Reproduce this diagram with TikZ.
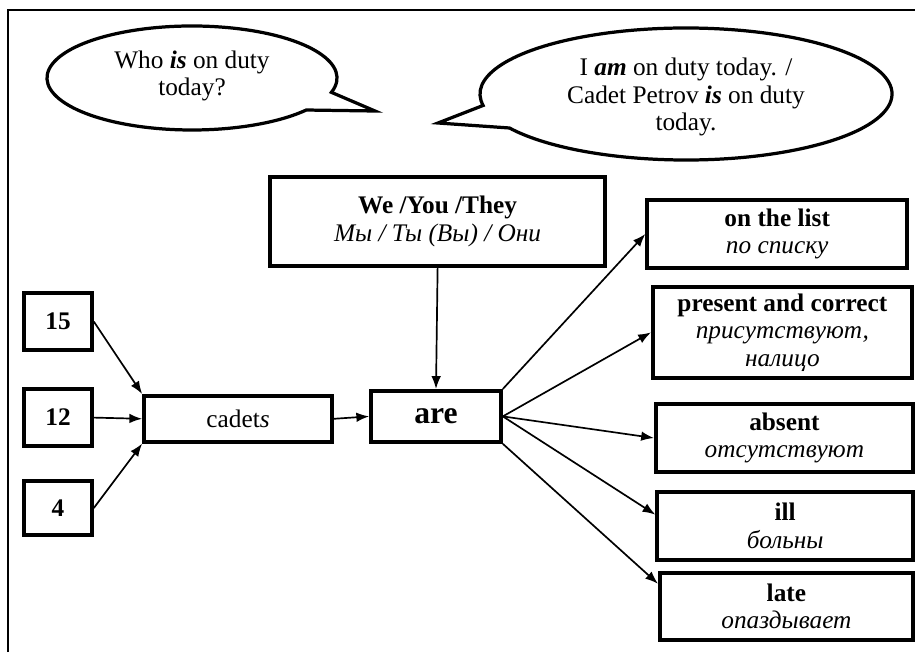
\documentclass[tikz,border=0pt]{standalone}
\usepackage{fontspec}
\setmainfont{Liberation Serif}
\usetikzlibrary{arrows.meta}
\tikzset{
	wordbox/.style={draw, line width=2.6pt, align=center, inner sep=0pt},
	bubble/.style={draw, line width=2.3pt, fill=white, line join=miter},
	link/.style={-{Latex[length=3.2mm,width=2.4mm]}, line width=1.2pt},
}
\begin{document}
\begin{tikzpicture}[font=\fontsize{18}{19.5}\selectfont]
		\useasboundingbox (0,0) rectangle (22.875,16.3);
		\draw[line width=0.9pt] (0.2,0) -- (0.2,16.05) -- (22.875,16.05);
		% speech bubbles
		\draw[bubble] (4.8,14.35) ++(-16:3.625 and 1.3) arc[start angle=-16, end angle=322, x radius=3.625, y radius=1.3] -- (9.375,13.525) -- cycle;
		\draw[bubble] (17.15,13.95) ++(211:5.15 and 1.65) arc[start angle=211, end angle=550, x radius=5.15, y radius=1.65] -- (10.95,13.225) -- cycle;
		\node[align=center] (ask) at (4.8,14.4) {Who \textbf{\textit{is}} on duty\\today?};
		\node[align=center] (answer) at (17.15,13.875) {I \textbf{\textit{am}} on duty today. /\\Cadet Petrov \textbf{\textit{is}} on duty\\today.};
		% numbers
		\node[wordbox, minimum width=1.7cm, minimum height=1.43cm] (n15) at (1.45,8.26) {\textbf{15}};
		\node[wordbox, minimum width=1.7cm, minimum height=1.43cm] (n12) at (1.45,5.86) {\textbf{12}};
		\node[wordbox, minimum width=1.7cm, minimum height=1.35cm] (n4) at (1.45,3.6) {\textbf{4}};
		\node[wordbox, minimum width=4.7cm, minimum height=1.15cm] (cadets) at (5.95,5.83) {cadet\textit{s}};
		\node[wordbox, minimum width=3.25cm, minimum height=1.28cm, font=\fontsize{22.5}{24}\selectfont] (are) at (10.9,5.89) {\textbf{are}};
		\node[wordbox, minimum width=8.38cm, minimum height=2.23cm] (we) at (10.94,10.76) {\textbf{We /You /They}\\\textit{Мы / Ты (Вы) / Они}};
		% states
		\node[wordbox, minimum width=6.5cm, minimum height=1.7cm] (list) at (19.43,10.45) {\textbf{on the list}\\\textit{по списку}};
		\node[wordbox, minimum width=6.48cm, minimum height=2.28cm] (present) at (19.56,7.99) {\textbf{present and correct}\\\textit{присутствуют,}\\\textit{налицо}};
		\node[wordbox, minimum width=6.43cm, minimum height=1.7cm] (absent) at (19.61,5.35) {\textbf{absent}\\\textit{отсутствуют}};
		\node[wordbox, minimum width=6.4cm, minimum height=1.7cm] (ill) at (19.63,3.15) {\textbf{ill}\\\textit{больны}};
		\node[wordbox, minimum width=6.33cm, minimum height=1.68cm] (late) at (19.66,1.14) {\textbf{late}\\\textit{опаздывает}};
		% connectors
		\draw[link] (n15.east) -- (cadets.north west);
		\draw[link] (n12.east) -- (cadets.west);
		\draw[link] (n4.east) -- (cadets.south west);
		\draw[link] (cadets.east) -- (are.west);
		\draw[link] (we.south) -- (are.north);
		\draw[link] (are.north east) -- (list.west);
		\draw[link] (are.east) -- (present.west);
		\draw[link] (are.east) -- (absent.west);
		\draw[link] (are.east) -- (ill.175);
		\draw[link] (are.south east) -- (late.170);
	\end{tikzpicture}
\end{document}
